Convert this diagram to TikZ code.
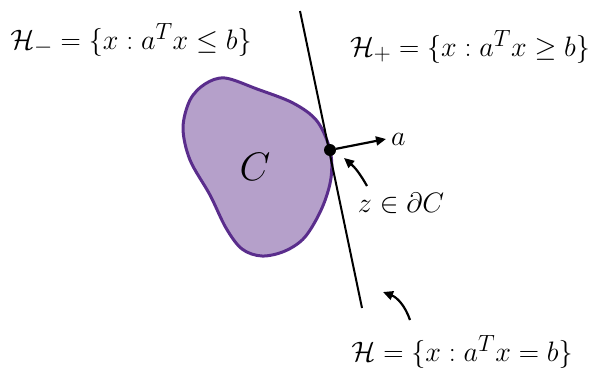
\documentclass[tikz,border=0pt]{standalone}
\usetikzlibrary{arrows.meta}
\definecolor{blobfill}{HTML}{B5A0CA}
\definecolor{blobedge}{HTML}{5A2D8C}
\begin{document}
\begin{tikzpicture}[
        x=1pt,
        y=-1pt,
        point/.style={circle, fill=black, inner sep=0pt, minimum size=12pt},
        lbl/.style={font=\Huge, scale=1.13, inner sep=0pt},
        arr/.style={-{Triangle[length=10pt,width=9pt]}, line width=2.2pt}
    ]
    \useasboundingbox (0,0) rectangle (593,378);
    \coordinate (Ltop) at (300,11);
    \coordinate (Lbot) at (362,308);
    \coordinate (atip) at (386,139);
    \coordinate (zt) at (367,186);
    \coordinate (zh) at (344,158);
    \coordinate (ht) at (410,320);
    \coordinate (hh) at (383,292);

    \draw[fill=blobfill, draw=blobedge, line width=3pt]
        plot[smooth cycle, tension=0.55] coordinates {
            (225,78) (257,89) (293,103) (317,121) (330,150) (331,178)
            (322,208) (305,237) (285,251) (262,256) (242,249) (226,228)
            (210,195) (190,160) (183,128) (190,100) (205,84)};
    \draw[line width=2pt] (Ltop) -- (Lbot);
    \node[point] (z) at (330,150) {};
    \draw[arr] (z) -- (atip);
    \node[lbl, anchor=west] (a) at (391,139) {$a$};
    \node[font=\Huge, scale=1.6] (C) at (255,167) {$C$};
    \draw[arr] (zt) to[bend right=10] (zh);
    \node[lbl] (zlbl) at (401,203) {$z\in\partial C$};
    \draw[arr] (ht) to[bend right=25] (hh);

    \node[lbl] (Hm) at (131,40) {$\mathcal{H}_- = \{x : a^T x \le b\}$};
    \node[lbl] (Hp) at (470,47) {$\mathcal{H}_+ = \{x : a^T x \ge b\}$};
    \node[lbl] (H) at (462,352) {$\mathcal{H} = \{x : a^T x = b\}$};
\end{tikzpicture}
\end{document}
